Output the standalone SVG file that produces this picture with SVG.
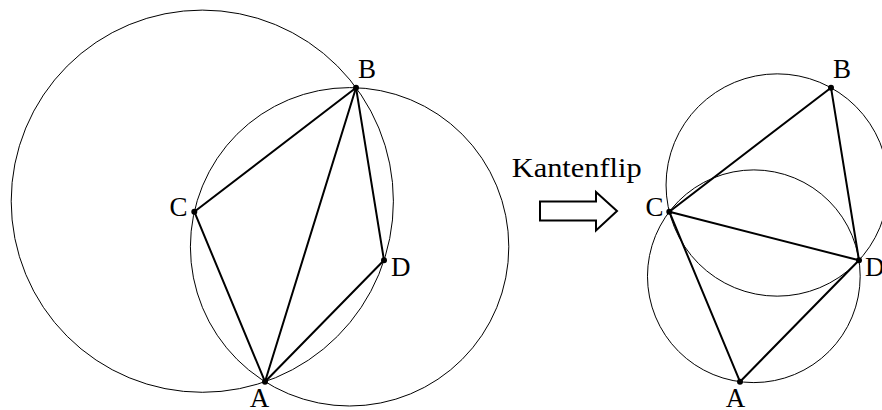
<svg xmlns="http://www.w3.org/2000/svg" width="882" height="410" viewBox="0 0 882 410">
<style>
.circ{fill:none;stroke:#000;stroke-width:1}
.edge{fill:none;stroke:#000;stroke-width:2;stroke-linecap:round}
.pt{fill:#000}
.lbl{font-family:"Liberation Serif","DejaVu Serif",serif;font-size:27px;fill:#000}
</style>
<rect width="882" height="410" fill="#fff"/>
<g id="left">
  <g id="left-circles">
    <circle class="circ" cx="202.3" cy="201.2" r="191.1"/>
    <circle class="circ" cx="349.6" cy="246.8" r="159.2"/>
  </g>
  <g id="left-connectors">
    <line class="edge" x1="194.3" y1="211.7" x2="356" y2="87.7"/>
    <line class="edge" x1="194.3" y1="211.7" x2="265" y2="381.7"/>
    <line class="edge" x1="265" y1="381.7" x2="356" y2="87.7"/>
    <line class="edge" x1="356" y1="87.7" x2="384" y2="260.3"/>
    <line class="edge" x1="265" y1="381.7" x2="384" y2="260.3"/>
  </g>
  <g id="L-A"><circle class="pt" cx="265" cy="381.7" r="3"/><text class="lbl" x="259.5" y="406.5" text-anchor="middle">A</text></g>
  <g id="L-B"><circle class="pt" cx="356" cy="87.7" r="3"/><text class="lbl" x="358" y="77.7">B</text></g>
  <g id="L-C"><circle class="pt" cx="194.3" cy="211.7" r="3"/><text class="lbl" x="169.5" y="215.5">C</text></g>
  <g id="L-D"><circle class="pt" cx="384" cy="260.3" r="3"/><text class="lbl" x="391" y="276">D</text></g>
</g>
<g id="flip">
  <text class="lbl" x="511.7" y="177.3" textLength="130" lengthAdjust="spacingAndGlyphs">Kantenflip</text>
  <polygon points="540,201.5 596,201.5 596,192 617,211 596,230.5 596,220.5 540,220.5" fill="#fff" stroke="#000" stroke-width="2" stroke-linejoin="miter"/>
</g>
<g id="right" transform="translate(475,0)">
  <g id="right-circles">
    <circle class="circ" cx="302.2" cy="185" r="111.15"/>
    <circle class="circ" cx="278.83" cy="276.25" r="106.35"/>
  </g>
  <g id="right-connectors">
    <line class="edge" x1="194.3" y1="211.7" x2="356" y2="87.7"/>
    <line class="edge" x1="194.3" y1="211.7" x2="265" y2="381.7"/>
    <line class="edge" x1="194.3" y1="211.7" x2="384" y2="260.3"/>
    <line class="edge" x1="356" y1="87.7" x2="384" y2="260.3"/>
    <line class="edge" x1="265" y1="381.7" x2="384" y2="260.3"/>
  </g>
  <g id="R-A"><circle class="pt" cx="265" cy="381.7" r="3"/><text class="lbl" x="260.5" y="406.5" text-anchor="middle">A</text></g>
  <g id="R-B"><circle class="pt" cx="356" cy="87.7" r="3"/><text class="lbl" x="358" y="77.7">B</text></g>
  <g id="R-C"><circle class="pt" cx="194.3" cy="211.7" r="3"/><text class="lbl" x="170.5" y="215.5">C</text></g>
  <g id="R-D"><circle class="pt" cx="384" cy="260.3" r="3"/><text class="lbl" x="390" y="276">D</text></g>
</g>
</svg>
